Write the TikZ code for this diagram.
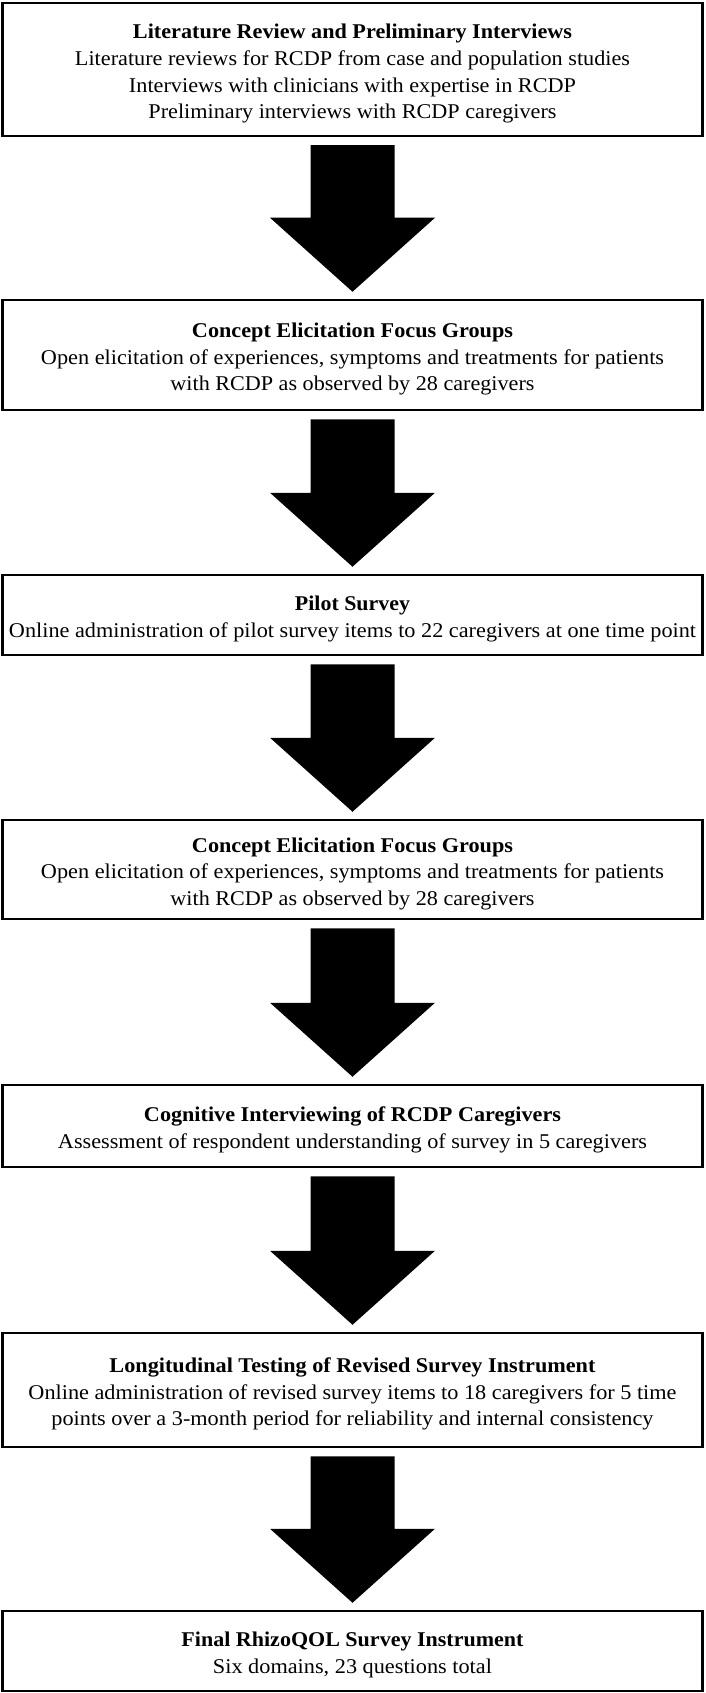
\documentclass[tikz,border=0pt]{standalone}
\usepackage{fontspec}
\setmainfont{Liberation Serif}
\usetikzlibrary{calc}
\tikzset{
  stage/.style={draw=black, line width=2.5pt, fill=white, minimum width=700pt,
    inner sep=0pt, align=center, font=\fontsize{21}{26.7}\selectfont},
  blockarr/.style={fill=black}
}
\newcommand\fitline[2]{\resizebox{#1pt}{\height}{#2}}
\newcommand\headline[2]{\rule{0pt}{23pt}\fitline{#1}{\textbf{#2}}}
\newcommand\blockarrow[2]{%
  \fill[blockarr] ($(#1.south)+(-42,-8)$) -- ($(#1.south)+(42,-8)$)
    -- ($(#2.north)+(42,81)$) -- ($(#2.north)+(82.5,81)$)
    -- ($(#2.north)+(0,7)$)
    -- ($(#2.north)+(-82.5,81)$) -- ($(#2.north)+(-42,81)$) -- cycle;}
\begin{document}
\begin{tikzpicture}[x=1pt,y=1pt]
\useasboundingbox (0,0) rectangle (705,-1693);
\node[stage, minimum height=133pt] (b1) at (352.5,-69.5)
  {\headline{439}{Literature Review and Preliminary Interviews}\\
   \fitline{555}{Literature reviews for RCDP from case and population studies}\\
   \fitline{447}{Interviews with clinicians with expertise in RCDP}\\
   \fitline{408}{Preliminary interviews with RCDP caregivers}};
\node[stage, minimum height=110pt] (b2) at (352.5,-355)
  {\headline{321}{Concept Elicitation Focus Groups}\\
   \fitline{623}{Open elicitation of experiences, symptoms and treatments for patients}\\
   \fitline{364}{with RCDP as observed by 28 caregivers}};
\node[stage, minimum height=80pt] (b3) at (352.5,-615)
  {\headline{115}{Pilot Survey}\\
   \fitline{687}{Online administration of pilot survey items to 22 caregivers at one time point}};
\node[stage, minimum height=99pt] (b4) at (352.5,-869.5)
  {\headline{321}{Concept Elicitation Focus Groups}\\
   \fitline{623}{Open elicitation of experiences, symptoms and treatments for patients}\\
   \fitline{364}{with RCDP as observed by 28 caregivers}};
\node[stage, minimum height=82pt] (b5) at (352.5,-1126)
  {\headline{417}{Cognitive Interviewing of RCDP Caregivers}\\
   \fitline{589}{Assessment of respondent understanding of survey in 5 caregivers}};
\node[stage, minimum height=114pt] (b6) at (352.5,-1390)
  {\headline{486}{Longitudinal Testing of Revised Survey Instrument}\\
   \fitline{648}{Online administration of revised survey items to 18 caregivers for 5 time}\\
   \fitline{602}{points over a 3-month period for reliability and internal consistency}};
\node[stage, minimum height=80pt] (b7) at (352.5,-1651)
  {\headline{342}{Final RhizoQOL Survey Instrument}\\
   \fitline{279}{Six domains, 23 questions total}};
\blockarrow{b1}{b2}
\blockarrow{b2}{b3}
\blockarrow{b3}{b4}
\blockarrow{b4}{b5}
\blockarrow{b5}{b6}
\blockarrow{b6}{b7}
\end{tikzpicture}
\end{document}
